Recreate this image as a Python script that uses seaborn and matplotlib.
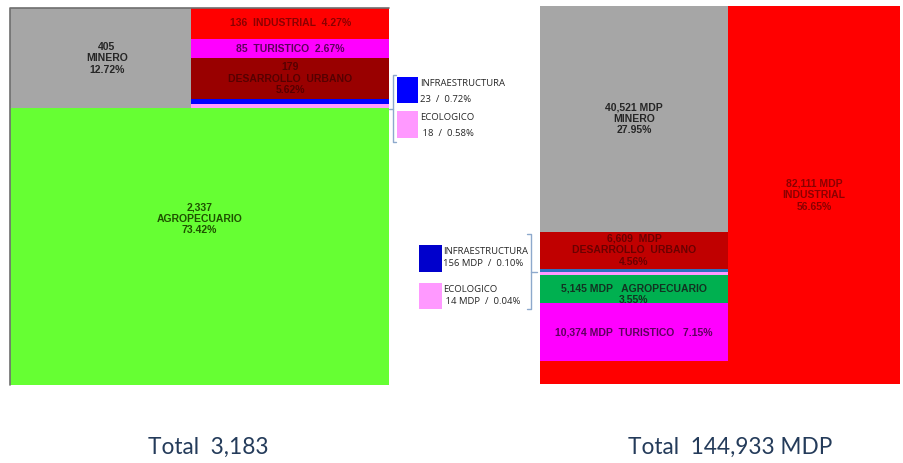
import numpy as np
import matplotlib.pyplot as plt
import seaborn as sns
from matplotlib.patches import Rectangle

# left treemap: number of units per sector
left_sectors = ['MINERO', 'INDUSTRIAL', 'TURISTICO', 'DESARROLLO  URBANO',
                'INFRAESTRUCTURA', 'ECOLOGICO', 'AGROPECUARIO']
left_values = [405, 136, 85, 179, 23, 18, 2337]
left_pcts = [12.72, 4.27, 2.67, 5.62, 0.72, 0.58, 73.42]
left_total = 3183

# right treemap: investment (MDP) per sector
right_sectors = ['MINERO', 'DESARROLLO  URBANO', 'INFRAESTRUCTURA', 'ECOLOGICO',
                 'AGROPECUARIO', 'TURISTICO', 'INDUSTRIAL']
right_values = [40521, 6609, 156, 14, 5145, 10374, 82111]
right_pcts = [27.95, 4.56, 0.10, 0.04, 3.55, 7.15, 56.65]
right_total = 144933

# styling
left_colors = {'MINERO': '#A6A6A6', 'INDUSTRIAL': '#FF0000', 'TURISTICO': '#FF00FF',
               'DESARROLLO  URBANO': '#990000', 'INFRAESTRUCTURA': '#0000FF',
               'ECOLOGICO': '#FF99FF', 'AGROPECUARIO': '#66FF33'}
right_colors = {'MINERO': '#A6A6A6', 'INDUSTRIAL': '#FF0000', 'TURISTICO': '#FF00FF',
                'DESARROLLO  URBANO': '#C00000', 'INFRAESTRUCTURA': '#2E6FC0',
                'ECOLOGICO': '#FF99FF', 'AGROPECUARIO': '#00B050'}
left_txt = {'MINERO': '#262626', 'INDUSTRIAL': '#8B0000', 'TURISTICO': '#5E005E',
            'DESARROLLO  URBANO': '#560000', 'AGROPECUARIO': '#1E5200'}
right_txt = {'MINERO': '#262626', 'INDUSTRIAL': '#8B0000', 'TURISTICO': '#5E005E',
             'DESARROLLO  URBANO': '#6A0000', 'AGROPECUARIO': '#123322'}

sns.set_theme(style="white")
plt.rcParams['font.family'] = ['Lato', 'DejaVu Sans']

fig = plt.figure(figsize=(9.04, 4.63), dpi=100)
ax = fig.add_axes([0, 0, 1, 1])
ax.set_xlim(0, 904)
ax.set_ylim(463, 0)
ax.axis('off')


def box(x, y, w, h, color):
    ax.bar(x, h, width=w, bottom=y, align='edge', color=color, linewidth=0)


def label(x, y, w, h, s, color):
    ax.text(x + w / 2, y + h / 2, s, ha='center', va='center', fontsize=7.5,
            fontweight='bold', color=color, linespacing=1.2,
            family=['Liberation Sans', 'DejaVu Sans'])


# ---- left treemap ----
LX, LY, LW, LH = 10, 8, 379, 377
vals = dict(zip(left_sectors, left_values))
pcts = dict(zip(left_sectors, left_pcts))
top = left_sectors[:6]
strip_sum = sum(vals[s] for s in top)
strip_h = strip_sum / left_total * LH
min_w = vals['MINERO'] / strip_sum * LW
box(LX, LY, min_w, strip_h, left_colors['MINERO'])
label(LX + 6, LY, min_w, strip_h, f"{vals['MINERO']:,}\nMINERO\n{pcts['MINERO']:.2f}%", left_txt['MINERO'])

col_sum = sum(vals[s] for s in top[1:])
y = LY
for s in top[1:]:
    h = vals[s] / col_sum * strip_h
    box(LX + min_w, y, LW - min_w, h, left_colors[s])
    if s in ('INDUSTRIAL', 'TURISTICO'):
        label(LX + min_w, y, LW - min_w, h, f"{vals[s]:,}  {s}  {pcts[s]:.2f}%", left_txt[s])
    elif s == 'DESARROLLO  URBANO':
        label(LX + min_w, y, LW - min_w, h, f"{vals[s]:,}\nDESARROLLO  URBANO\n{pcts[s]:.2f}%", left_txt[s])
    y += h

box(LX, LY + strip_h, LW, LH - strip_h, left_colors['AGROPECUARIO'])
label(LX, LY + strip_h - 28, LW, LH - strip_h,
      f"{vals['AGROPECUARIO']:,}\nAGROPECUARIO\n{pcts['AGROPECUARIO']:.2f}%", left_txt['AGROPECUARIO'])
ax.plot([LX, LX, LX + LW], [LY + LH, LY, LY], color='#6E6E6E', lw=1.2)

# ---- right treemap ----
RX, RY, RW, RH = 540, 6, 360, 378
col_frac, fill_frac, min_h = 0.522, 0.926, 3.0
rvals = dict(zip(right_sectors, right_values))
rpcts = dict(zip(right_sectors, right_pcts))
cw = RW * col_frac
stack = right_sectors[:6]
stack_sum = sum(rvals[s] for s in stack)
# industrial fills what the stacked column leaves
box(RX + cw, RY, RW - cw, RH, right_colors['INDUSTRIAL'])
box(RX, RY, cw, RH, right_colors['INDUSTRIAL'])
y = RY
for s in stack:
    h = max(rvals[s] / stack_sum * fill_frac * RH, min_h)
    box(RX, y, cw, h, right_colors[s])
    if s == 'MINERO':
        label(RX, y, cw, h, f"{rvals[s]:,} MDP\nMINERO\n{rpcts[s]:.2f}%", right_txt[s])
    elif s == 'DESARROLLO  URBANO':
        label(RX, y, cw, h, f"{rvals[s]:,}  MDP\nDESARROLLO  URBANO\n{rpcts[s]:.2f}%", right_txt[s])
    elif s == 'AGROPECUARIO':
        label(RX, y + 5, cw, h, f"{rvals[s]:,} MDP   AGROPECUARIO\n{rpcts[s]:.2f}%", right_txt[s])
    elif s == 'TURISTICO':
        label(RX, y, cw, h, f"{rvals[s]:,} MDP  TURISTICO   {rpcts[s]:.2f}%", right_txt[s])
    y += h
label(RX + cw, RY, RW - cw, RH,
      f"{rvals['INDUSTRIAL']:,} MDP\nINDUSTRIAL\n{rpcts['INDUSTRIAL']:.2f}%", right_txt['INDUSTRIAL'])

# ---- call-outs for the tiny sectors ----
br = '#8DA9CC'
ax.plot([396, 393, 393, 396], [75, 75, 142, 142], color=br, lw=1)
ax.plot([393, 389], [109, 109], color=br, lw=1)
ax.add_patch(Rectangle((397, 77), 21, 26, color='#0000FF', lw=0))
ax.add_patch(Rectangle((397, 111), 21, 27, color='#FF99FF', lw=0))
lfont = dict(fontsize=6.8, color='#262626', va='center', ha='left', family=['Open Sans', 'DejaVu Sans'])
ax.text(420, 84, 'INFRAESTRUCTURA', **lfont)
ax.text(420, 99, f"{vals['INFRAESTRUCTURA']}  /  {pcts['INFRAESTRUCTURA']:.2f}%", **lfont)
ax.text(420, 118, 'ECOLOGICO', **lfont)
ax.text(420, 133, f" {vals['ECOLOGICO']}  /  {pcts['ECOLOGICO']:.2f}%", **lfont)

ax.plot([527, 531, 531, 527], [234, 234, 309, 309], color=br, lw=1)
ax.plot([531, 537], [272, 272], color=br, lw=1)
ax.add_patch(Rectangle((419, 245), 23, 27, color='#0000CC', lw=0))
ax.add_patch(Rectangle((419, 283), 23, 26, color='#FF99FF', lw=0))
ax.text(443, 251, 'INFRAESTRUCTURA', **lfont)
ax.text(443, 264, f"{rvals['INFRAESTRUCTURA']} MDP  /  {rpcts['INFRAESTRUCTURA']:.2f}%", **lfont)
ax.text(443, 290, 'ECOLOGICO', **lfont)
ax.text(443, 302, f" {rvals['ECOLOGICO']} MDP  /  {rpcts['ECOLOGICO']:.2f}%", **lfont)

# ---- totals ----
tfont = dict(fontsize=16.3, color='#243B5A', ha='center', va='center')
ax.text(208, 447, f"Total  {left_total:,}", **tfont)
ax.text(730, 447, f"Total  {right_total:,} MDP", **tfont)

plt.savefig('out.png', dpi=100)
